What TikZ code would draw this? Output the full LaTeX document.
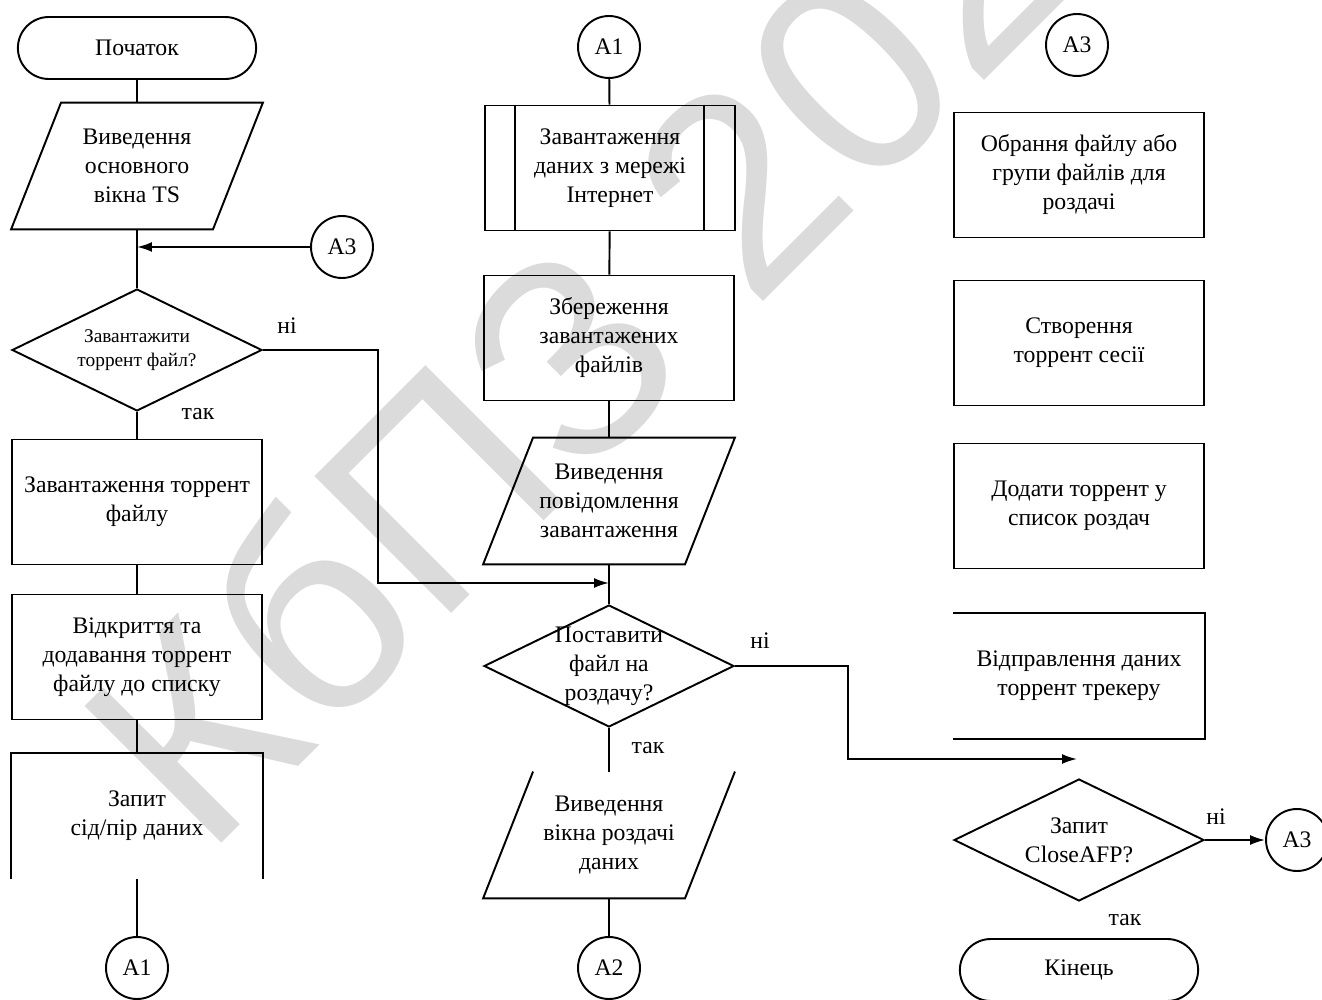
\documentclass[tikz,border=0pt]{standalone}
\usepackage{fontspec}
\setmainfont{Liberation Serif}
\newfontfamily\wmfont{Liberation Sans}
\usetikzlibrary{shapes.geometric,shapes.misc,arrows.meta}

\begin{document}
\begin{tikzpicture}[
		x=0.02cm, y=-0.02cm,
		font=\fontsize{13.5}{16.5}\selectfont,
		line width=1.1pt,
		every node/.style = {align=center},
		terminal/.style={rounded rectangle, draw, minimum width=5cm, minimum height=1.24cm},
		process/.style={rectangle, draw, minimum width=5cm, minimum height=2.5cm},
		openbox/.style={rectangle, minimum width=5cm, minimum height=2.5cm},
		iobox/.style={rectangle, minimum width=4cm, minimum height=2.5cm},
		decision/.style={diamond, draw, aspect=2.08, inner sep=0pt,
			minimum width=5cm, minimum height=2.44cm},
		connector/.style={circle, draw, minimum size=1.24cm, inner sep=0pt},
		lbl/.style={inner sep=0pt},
		flow/.style={-{Latex[length=3mm,width=2mm]}},
		]
		\useasboundingbox (0,0) rectangle (1322,1000);
		
		% watermark
		\node[text=black!14, font=\wmfont\fontsize{160}{160}\selectfont,
			rotate=45, anchor=base west, inner sep=0pt] (wm) at (205,860) {КбПЗ 2024};
		
		% left column
		\node[terminal] (start) at (137,48) {Початок};
		\node[iobox] (out1) at (137,166) {Виведення\\основного\\вікна TS};
		\node[connector] (a3in) at (342,247) {A3};
		\node[decision, font=\fontsize{11}{14}\selectfont] (q1) at (137,350) {Завантажити\\торрент файл?};
		\node[process] (load1) at (137,502) {Завантаження торрент\\файлу};
		\node[process] (open1) at (137,657) {Відкриття та\\додавання торрент\\файлу до списку};
		\node[openbox] (req1) at (137,816) {Запит\\сід/пір даних};
		\node[connector] (c1) at (137,968) {A1};
		
		% middle column
		\node[connector] (c1b) at (609,47) {A1};
		\node[process] (dl) at (610,168) {Завантаження\\даних з мережі\\Інтернет};
		\node[process] (save) at (609,338) {Збереження\\завантажених\\файлів};
		\node[iobox] (out2) at (609,501) {Виведення\\повідомлення\\завантаження};
		\coordinate (j2) at (609,583);
		\node[decision, inner ysep=-0.3cm] (q2) at (609,666) {Поставити\\файл на\\роздачу?};
		\node[iobox] (out3) at (609,835) {Виведення\\вікна роздачі\\даних};
		\node[connector] (c2) at (609,968) {A2};
		
		% right column
		\node[connector] (c3) at (1077,45) {A3};
		\node[process] (sel) at (1079,175) {Обрання файлу або\\групи файлів для\\роздачі};
		\node[process] (sess) at (1079,343) {Створення\\торрент сесії};
		\node[process] (add) at (1079,506) {Додати торрент у\\список роздач};
		\node[openbox] (send) at (1079,676) {Відправлення даних\\торрент трекеру};
		\coordinate (j3) at (1077,759);
		\node[decision] (q3) at (1079,840) {Запит\\CloseAFP?};
		\node[connector] (c3b) at (1297,840) {A3};
		\node[terminal] (finish) at (1079,970) {Кінець};
		
		% yes / no labels
		\node[lbl] (q1no) at (287,326) {ні};
		\node[lbl] (q1yes) at (198,414) {так};
		\node[lbl] (q2no) at (760,641) {ні};
		\node[lbl] (q2yes) at (648,748) {так};
		\node[lbl] (q3no) at (1216,817) {ні};
		\node[lbl] (q3yes) at (1125,920) {так};
		
		% outlines that are not plain rectangles
		\foreach \n in {out1,out2}
		\draw ([xshift=0.5cm]\n.north west) -- ([xshift=0.5cm]\n.north east)
		-- ([xshift=-0.5cm]\n.south east) -- ([xshift=-0.5cm]\n.south west) -- cycle;
		\draw ([xshift=0.5cm]out3.north west) -- ([xshift=-0.5cm]out3.south west)
		-- ([xshift=-0.5cm]out3.south east) -- ([xshift=0.5cm]out3.north east);
		\draw ([xshift=0.62cm]dl.north west) -- ([xshift=0.62cm]dl.south west)
		([xshift=-0.64cm]dl.north east) -- ([xshift=-0.64cm]dl.south east);
		\draw (req1.south west) -- (req1.north west) -- (req1.north east) -- (req1.south east);
		\draw (send.north west) -- (send.north east) -- (send.south east) -- (send.south west);
		
		% connectors
		\draw (start) -- (out1);
		\draw (out1) -- (q1);
		\draw[flow] (a3in) -- (a3in -| q1);
		\draw (q1) -- (load1);
		\draw (load1) -- (open1);
		\draw (open1) -- (req1);
		\draw (req1.south) -- (c1);
		\draw[flow] (q1.east) -- ++(115,0) |- (j2);
		\draw (c1b) -- (dl);
		\draw (dl) -- (save);
		\draw (save) -- (out2);
		\draw (out2) -- (q2);
		\draw (q2) -- (out3);
		\draw (out3) -- (c2);
		\draw[flow] (q2.east) -- ++(113,0) |- (j3);
		\draw[flow] (q3.east) -- (c3b);
\end{tikzpicture}
\end{document}
